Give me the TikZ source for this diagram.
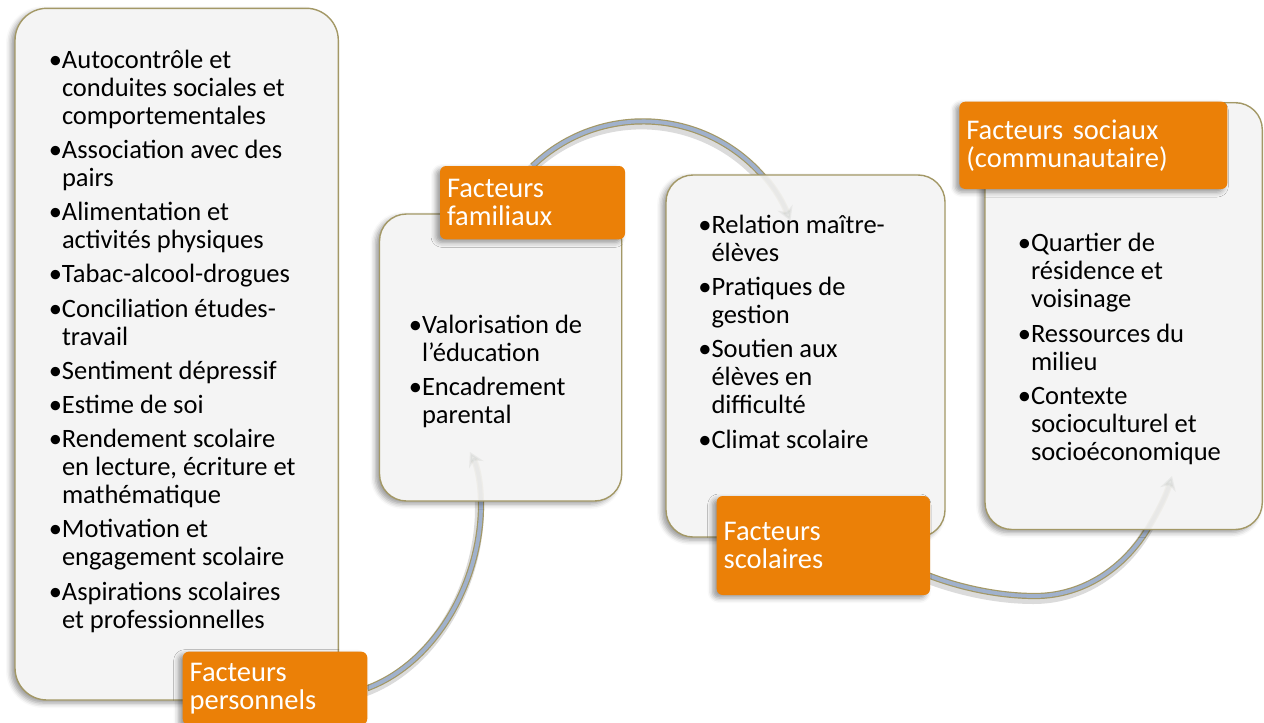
\documentclass[tikz,border=0pt]{standalone}
\usepackage{fontspec}
\setmainfont{Carlito}
\usetikzlibrary{shadows.blur,arrows.meta}
\definecolor{orng}{RGB}{235,128,7}
\definecolor{tanb}{RGB}{163,152,102}
\definecolor{arcblue}{RGB}{160,179,212}
\definecolor{boxfill}{RGB}{244,244,244}
\newcommand{\mybul}{\llap{•}}
\newcommand{\fst}{\rule{0pt}{22pt}}
\newcommand{\bodyfont}{\fontsize{26.5}{28}\selectfont}
\newcommand{\lblfont}{\fontsize{28.5}{28}\selectfont}
\pgfdeclarelayer{arcs}
\pgfdeclarelayer{faint}
\pgfdeclarelayer{front}
\pgfsetlayers{arcs,main,faint,front}
\tikzset{
  softshadow/.style={blur shadow={shadow xshift=-4pt, shadow yshift=-3pt, shadow blur radius=5pt, shadow opacity=40}},
  gbox/.style={draw=tanb, line width=1.4pt, fill=boxfill, inner sep=0pt, outer sep=0pt, anchor=north west, softshadow},
  lbox/.style={fill=orng, text=white, rounded corners=6pt, inner xsep=7pt, inner ysep=0pt, outer sep=0pt, anchor=north west, align=left, font=\lblfont, softshadow},
  btext/.style={anchor=north west, inner sep=0pt, outer sep=0pt, align=left, font=\bodyfont},
  arcline/.style={draw=tanb, line width=6.2pt,
    preaction={draw=black, opacity=.14, line width=9pt, transform canvas={shift={(-1.5pt,-3.5pt)}}},
    postaction={draw=arcblue, line width=3.8pt}},
  arcfaint/.style={draw=tanb, line width=6.2pt, opacity=.07,
    postaction={draw=arcblue, line width=3.8pt, opacity=.07}},
  tip/.style={-{Stealth[length=14pt,width=16pt]}},
}
\begin{document}
\begin{tikzpicture}[x=1pt,y=-1pt]
\useasboundingbox (0,0) rectangle (1264,723);
\clip (0,0) rectangle (1264,723);

% grey boxes
\node[gbox, rounded corners=32pt, minimum width=323.3pt, minimum height=691.7pt] (b1) at (15,8.3) {};
\node[gbox, rounded corners=27pt, minimum width=242.2pt, minimum height=287pt] (b2) at (379.5,214) {};
\node[gbox, rounded corners=27pt, minimum width=279pt, minimum height=362pt] (b3) at (666,175) {};
\node[gbox, rounded corners=27pt, minimum width=277.3pt, minimum height=426.8pt] (b4) at (985,102.7) {};

\begin{pgfonlayer}{front}
% orange labels
\node[lbox, minimum width=184.6pt, minimum height=73pt, text width=170.6pt] (l1) at (182.7,651.7) {Facteurs\\personnels};
\node[lbox, minimum width=185pt, minimum height=73.3pt, text width=171pt] (l2) at (440,166) {Facteurs\\familiaux};
\node[lbox, minimum width=213.3pt, minimum height=99pt, text width=199.3pt] (l3) at (716.7,496) {Facteurs\\scolaires};
\node[lbox, minimum width=268pt, minimum height=87.3pt, text width=254pt] (l4) at (959.3,101.7) {Facteurs sociaux\\(communautaire)};

% texts
\node[btext] (t1) at (62,46.3) {\fst\mybul Autocontrôle et\\conduites sociales et\\comportementales\\[6.2pt]
\mybul Association avec des\\pairs\\[6.2pt]
\mybul Alimentation et\\activités physiques\\[6.2pt]
\mybul Tabac-alcool-drogues\\[6.2pt]
\mybul Conciliation études-\\travail\\[6.2pt]
\mybul Sentiment dépressif\\[6.2pt]
\mybul Estime de soi\\[6.2pt]
\mybul Rendement scolaire\\en lecture, écriture et\\mathématique\\[6.2pt]
\mybul Motivation et\\engagement scolaire\\[6.2pt]
\mybul Aspirations scolaires\\et professionnelles};

\node[btext] (t2) at (422,311) {\fst\mybul Valorisation de\\l’éducation\\[6.2pt]
\mybul Encadrement\\parental};

\node[btext] (t3) at (711.5,211.5) {\fst\mybul Relation maître-\\élèves\\[6.2pt]
\mybul Pratiques de\\gestion\\[6.2pt]
\mybul Soutien aux\\élèves en\\difficulté\\[6.2pt]
\mybul Climat scolaire};

\node[btext] (t4) at (1031,229.7) {\fst\mybul Quartier de\\résidence et\\voisinage\\[6.5pt]
\mybul Ressources du\\milieu\\[6.5pt]
\mybul Contexte\\socioculturel et\\socioéconomique};
\end{pgfonlayer}

\coordinate (a3s) at (925,574);

% connectors behind the boxes
\begin{pgfonlayer}{arcs}
\draw[arcline] (l1.east) .. controls (437,662) and (481,580) .. (481,505)
  .. controls (481,482) and (477,466) .. (470,452);
\draw[arcline] (l2.north) arc[start angle=-134, end angle=-22, radius=159];
\draw[arcline] (a3s) .. controls (960,588) and (1000,596) .. (1035,596)
  .. controls (1085,596) and (1125,566) .. (1147,530)
  .. controls (1158,512) and (1166,496) .. (1172,476);
\end{pgfonlayer}

% faint show-through of the connectors inside the boxes
\begin{pgfonlayer}{faint}
\draw[arcfaint, tip] (l1.east) .. controls (437,662) and (481,580) .. (481,505)
  .. controls (481,482) and (477,466) .. (470,452);
\draw[arcfaint, tip] (l2.north) arc[start angle=-134, end angle=-22, radius=159];
\draw[arcfaint, tip] (a3s) .. controls (960,588) and (1000,596) .. (1035,596)
  .. controls (1085,596) and (1125,566) .. (1147,530)
  .. controls (1158,512) and (1166,496) .. (1172,476);
\end{pgfonlayer}
\end{tikzpicture}
\end{document}
